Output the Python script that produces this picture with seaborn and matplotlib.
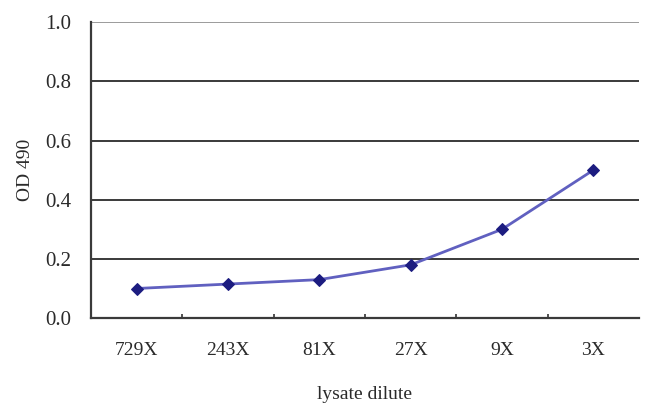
import seaborn as sns
import matplotlib.pyplot as plt
import pandas as pd

# values
dilutions = ["729X", "243X", "81X", "27X", "9X", "3X"]
od490 = [0.10, 0.115, 0.13, 0.18, 0.30, 0.50]

sns.set_style("white")
plt.rcParams['font.family'] = ['Liberation Serif', 'DejaVu Serif']

dfrm = pd.DataFrame({'pos': range(len(dilutions)), 'od': od490})

fig = plt.figure(figsize=(6.5, 4.18), dpi=100)
axes = fig.add_axes([0.14, 0.239, 0.843, 0.708])

# horizontal gridlines like the Excel chart
for yval in [0.2, 0.4, 0.6, 0.8]:
    axes.axhline(yval, color='#3a3a3a', linewidth=1.4, zorder=1)
axes.axhline(1.0, color='#8a8a8a', linewidth=1.2, zorder=1)

sns.lineplot(data=dfrm, x='pos', y='od', ax=axes, color='#6060c0',
             linewidth=2.0, marker='D', markersize=6.5,
             markerfacecolor='#1c1c80', markeredgecolor='#1c1c80', zorder=3)

txt_col = '#2a2a2a'
axes.set_xlim(-0.5, len(dilutions) - 0.5)
axes.set_ylim(0.0, 1.0)
axes.set_yticks([0.0, 0.2, 0.4, 0.6, 0.8, 1.0])
axes.set_yticklabels(["0.0", "0.2", "0.4", "0.6", "0.8", "1.0"], fontsize=15, color=txt_col)
axes.set_xticks(range(len(dilutions)))
axes.set_xticklabels(dilutions, fontsize=14, color=txt_col)
axes.set_xticks([i + 0.5 for i in range(len(dilutions) - 1)], minor=True)
axes.tick_params(axis='x', which='major', length=0, pad=17)
axes.tick_params(axis='x', which='minor', direction='in', length=3, width=1.2,
                 color='#333333', bottom=True)
axes.tick_params(axis='y', length=0, pad=14)

for side in ['top', 'right']:
    axes.spines[side].set_visible(False)
for side in ['left', 'bottom']:
    axes.spines[side].set_color('#3a3a3a')
    axes.spines[side].set_linewidth(1.6)

axes.set_xlabel("lysate dilute", fontsize=14, color=txt_col, labelpad=20)
axes.set_ylabel("OD 490", fontsize=14, color=txt_col, labelpad=8)

fig.savefig("out.png", dpi=100)
